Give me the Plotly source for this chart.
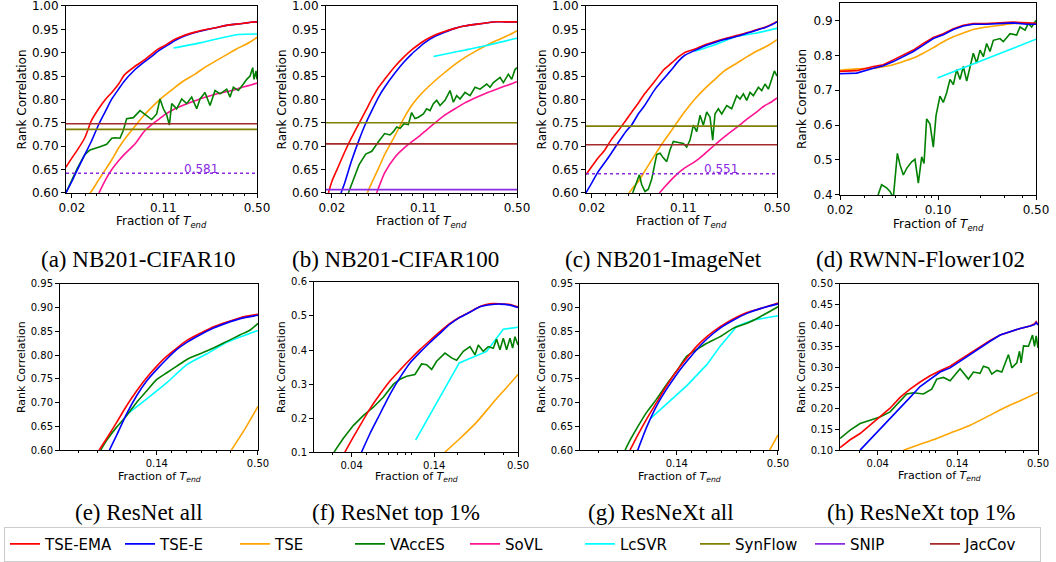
import math
import plotly.graph_objects as go

W, H = 1056, 562

# ---------------- legend / methods ----------------
METHODS = ["TSE-EMA", "TSE-E", "TSE", "VAccES", "SoVL", "LcSVR", "SynFlow", "SNIP", "JacCov"]
COLORS = ["#ff0000", "#0000ff", "#ffa500", "#008000", "#ff1493", "#00ffff", "#808000", "#8a2be2", "#a52a2a"]

CAPTIONS = ["(a) NB201-CIFAR10", "(b) NB201-CIFAR100", "(c) NB201-ImageNet", "(d) RWNN-Flower102",
            "(e) ResNet all", "(f) ResNet top 1%", "(g) ResNeXt all", "(h) ResNeXt top 1%"]
Y_TITLE = "Rank Correlation"
X_TITLE = "Fraction of <i>T</i><sub><i>end</i></sub>"

# ---------------- (a) NB201-CIFAR10 ----------------
top_grid = [0.018, 0.02, 0.022, 0.025, 0.028, 0.032, 0.036, 0.04, 0.045, 0.05, 0.06, 0.07, 0.08,
            0.09, 0.1, 0.12, 0.14, 0.17, 0.2, 0.25, 0.3, 0.35, 0.4, 0.45, 0.5]
a_tse_ema = [0.655, 0.675, 0.692, 0.718, 0.754, 0.781, 0.801, 0.815, 0.833, 0.853, 0.871, 0.884, 0.897,
             0.908, 0.915, 0.929, 0.937, 0.944, 0.949, 0.954, 0.959, 0.961, 0.963, 0.965, 0.966]
a_tse_e = [0.600, 0.625, 0.650, 0.682, 0.710, 0.748, 0.776, 0.801, 0.822, 0.840, 0.864, 0.880, 0.892,
           0.904, 0.912, 0.926, 0.935, 0.943, 0.948, 0.954, 0.959, 0.961, 0.963, 0.965, 0.966]
a_tse_x = [0.0272, 0.028, 0.032, 0.036, 0.04, 0.045, 0.05, 0.06, 0.07, 0.08, 0.09, 0.1, 0.12, 0.14,
           0.17, 0.2, 0.25, 0.3, 0.35, 0.4, 0.45, 0.5]
a_tse_y = [0.600, 0.603, 0.629, 0.651, 0.671, 0.696, 0.715, 0.743, 0.766, 0.783, 0.797, 0.808, 0.826,
           0.840, 0.854, 0.868, 0.884, 0.897, 0.908, 0.916, 0.924, 0.933]
a_sovl_x = [0.032, 0.036, 0.04, 0.045, 0.05, 0.06, 0.07, 0.08, 0.09, 0.1, 0.12, 0.14, 0.17, 0.2, 0.25,
            0.3, 0.35, 0.4, 0.45, 0.5]
a_sovl_y = [0.600, 0.629, 0.650, 0.669, 0.683, 0.705, 0.731, 0.746, 0.757, 0.767, 0.780, 0.788, 0.797,
            0.804, 0.812, 0.817, 0.822, 0.827, 0.831, 0.835]
a_vacc_x = [0.018, 0.02, 0.022, 0.025, 0.0274, 0.0326, 0.0366, 0.04, 0.0423, 0.0461, 0.0489, 0.0518,
            0.0582, 0.0654, 0.0734, 0.08, 0.0873, 0.0925, 0.0981, 0.1039, 0.1089, 0.1134, 0.1237, 0.1349,
            0.1472, 0.1605, 0.1751, 0.1856, 0.2024, 0.2208, 0.241, 0.2629, 0.2953, 0.3129, 0.3315, 0.3616,
            0.3945, 0.4181, 0.443, 0.464, 0.475, 0.4918, 0.5]
a_vacc_y = [0.600, 0.629, 0.653, 0.682, 0.692, 0.699, 0.704, 0.717, 0.718, 0.717, 0.734, 0.759,
            0.761, 0.776, 0.766, 0.757, 0.769, 0.801, 0.780, 0.767, 0.745, 0.791, 0.780, 0.801,
            0.791, 0.805, 0.780, 0.801, 0.815, 0.787, 0.819, 0.812, 0.822, 0.805, 0.826, 0.819,
            0.833, 0.843, 0.850, 0.868, 0.843, 0.861, 0.843]
a_lcsvr_x = [0.117, 0.186, 0.263, 0.362, 0.5]
a_lcsvr_y = [0.910, 0.921, 0.931, 0.939, 0.940]
a_synflow, a_snip, a_jaccov = 0.736, 0.642, 0.748
a_snip_label = "0.581"

# ---------------- (b) NB201-CIFAR100 ----------------
b_tse_ema_x = [0.0188] + top_grid[1:]
b_tse_ema_y = [0.600, 0.625, 0.652, 0.688, 0.717, 0.749, 0.776, 0.801, 0.826, 0.843, 0.871, 0.891, 0.906,
               0.917, 0.926, 0.938, 0.945, 0.952, 0.957, 0.961, 0.964, 0.966, 0.966, 0.966, 0.966]
b_tse_e_x = [0.0234, 0.025, 0.028, 0.032, 0.036, 0.04, 0.045, 0.05, 0.06, 0.07, 0.08, 0.09, 0.1, 0.12,
             0.14, 0.17, 0.2, 0.25, 0.3, 0.35, 0.4, 0.45, 0.5]
b_tse_e_y = [0.600, 0.622, 0.667, 0.713, 0.749, 0.776, 0.805, 0.826, 0.857, 0.880, 0.897, 0.910, 0.921,
             0.935, 0.943, 0.952, 0.957, 0.961, 0.964, 0.966, 0.966, 0.966, 0.966]
b_tse_x = [0.037, 0.04, 0.045, 0.05, 0.06, 0.07, 0.08, 0.09, 0.1, 0.12, 0.14, 0.17, 0.2, 0.25, 0.3,
           0.35, 0.4, 0.45, 0.5]
b_tse_y = [0.600, 0.622, 0.653, 0.682, 0.723, 0.760, 0.787, 0.805, 0.819, 0.840, 0.856, 0.875, 0.889,
           0.905, 0.917, 0.926, 0.933, 0.940, 0.947]
b_sovl_x = [0.0435, 0.045, 0.05, 0.06, 0.07, 0.08, 0.09, 0.1, 0.12, 0.14, 0.17, 0.2, 0.25, 0.3, 0.35,
            0.4, 0.45, 0.5]
b_sovl_y = [0.600, 0.611, 0.643, 0.677, 0.696, 0.709, 0.720, 0.731, 0.750, 0.765, 0.780, 0.792, 0.805,
            0.815, 0.822, 0.828, 0.833, 0.838]
b_vacc_x = [0.0266, 0.028, 0.032, 0.036, 0.04, 0.045, 0.05, 0.0549, 0.0582, 0.0617, 0.0654, 0.07,
            0.0755, 0.08, 0.0848, 0.09, 0.0981, 0.1039, 0.1101, 0.1167, 0.1237, 0.1311, 0.1429, 0.156,
            0.1653, 0.1751, 0.1856, 0.2024, 0.2208, 0.241, 0.2629, 0.2953, 0.3129, 0.3315, 0.3724,
            0.3945, 0.4303, 0.456, 0.4831, 0.5]
b_vacc_y = [0.600, 0.618, 0.660, 0.683, 0.689, 0.710, 0.727, 0.724, 0.731, 0.741, 0.738, 0.748,
            0.746, 0.772, 0.759, 0.762, 0.769, 0.780, 0.776, 0.791, 0.798, 0.787, 0.798, 0.819,
            0.794, 0.808, 0.801, 0.815, 0.808, 0.826, 0.822, 0.833, 0.826, 0.836, 0.847,
            0.836, 0.854, 0.843, 0.864, 0.868]
b_lcsvr_x = [0.117, 0.25, 0.5]
b_lcsvr_y = [0.892, 0.911, 0.931]
b_synflow, b_snip, b_jaccov = 0.750, 0.607, 0.705

# ---------------- (c) NB201-ImageNet ----------------
c_tse_ema = [0.639, 0.657, 0.673, 0.692, 0.714, 0.735, 0.755, 0.773, 0.793, 0.812, 0.840, 0.864, 0.878,
             0.891, 0.900, 0.908, 0.916, 0.924, 0.930, 0.937, 0.943, 0.949, 0.954, 0.960, 0.967]
c_tse_e = [0.600, 0.622, 0.643, 0.665, 0.685, 0.710, 0.731, 0.746, 0.770, 0.787, 0.822, 0.845, 0.864,
           0.882, 0.894, 0.905, 0.914, 0.922, 0.928, 0.935, 0.942, 0.948, 0.953, 0.959, 0.966]
c_lcsvr_x = [0.12, 0.17, 0.25, 0.35, 0.5]
c_lcsvr_y = [0.903, 0.917, 0.935, 0.942, 0.952]
c_tse_x = [0.0381, 0.04, 0.045, 0.05, 0.06, 0.07, 0.08, 0.09, 0.1, 0.12, 0.14, 0.17, 0.2, 0.25, 0.3,
           0.35, 0.4, 0.45, 0.5]
c_tse_y = [0.600, 0.608, 0.625, 0.646, 0.682, 0.711, 0.734, 0.755, 0.773, 0.801, 0.821, 0.843, 0.861,
           0.878, 0.892, 0.903, 0.911, 0.919, 0.928]
c_sovl_x = [0.0646, 0.07, 0.08, 0.09, 0.1, 0.12, 0.14, 0.17, 0.2, 0.25, 0.3, 0.35, 0.4, 0.45, 0.5]
c_sovl_y = [0.600, 0.611, 0.629, 0.643, 0.653, 0.667, 0.682, 0.703, 0.720, 0.741, 0.759, 0.773, 0.786,
            0.794, 0.803]
c_vacc_x = [0.0406, 0.0435, 0.0456, 0.0475, 0.0503, 0.0533, 0.0565, 0.0617, 0.0654, 0.0692, 0.0734,
            0.0777, 0.0824, 0.09, 0.0981, 0.1039, 0.1101, 0.1167, 0.1237, 0.1311, 0.1389, 0.1472,
            0.156, 0.1634, 0.17, 0.1803, 0.1911, 0.2085, 0.2274, 0.248, 0.2629, 0.2786, 0.2953,
            0.3129, 0.3315, 0.3616, 0.3834, 0.4062, 0.4303, 0.456, 0.4777, 0.5]
c_vacc_y = [0.600, 0.622, 0.639, 0.618, 0.603, 0.608, 0.629, 0.682, 0.685, 0.675, 0.667,
            0.692, 0.710, 0.708, 0.706, 0.698, 0.713, 0.745, 0.731, 0.766, 0.745, 0.773,
            0.762, 0.713, 0.769, 0.780, 0.769, 0.787, 0.780, 0.808, 0.801, 0.812, 0.798,
            0.815, 0.808, 0.826, 0.819, 0.833, 0.822, 0.843, 0.861, 0.850]
c_synflow, c_snip, c_jaccov = 0.743, 0.641, 0.703
c_snip_label = "0.551"
snip_label_pos = (0.188, 0.651)   # (fraction, rank corr) where the SNIP value is written

# ---------------- (d) RWNN-Flower102 ----------------
d_grid = [0.02, 0.0263, 0.0346, 0.0407, 0.048, 0.0566, 0.0667, 0.0786, 0.0926, 0.1091, 0.1287, 0.1516,
          0.1786, 0.2224, 0.2768, 0.3446, 0.4289, 0.5]
d_tse_ema = [0.754, 0.756, 0.768, 0.773, 0.787, 0.801, 0.815, 0.834, 0.851, 0.862, 0.876, 0.886, 0.891,
             0.891, 0.892, 0.895, 0.893, 0.892]
d_tse_e = [0.747, 0.749, 0.763, 0.770, 0.782, 0.796, 0.811, 0.829, 0.848, 0.859, 0.874, 0.884, 0.889,
           0.889, 0.891, 0.893, 0.889, 0.889]
d_tse = [0.757, 0.761, 0.763, 0.767, 0.773, 0.782, 0.792, 0.806, 0.822, 0.839, 0.853, 0.864, 0.874,
         0.881, 0.886, 0.891, 0.892, 0.892]
d_vacc_x = [0.0355, 0.0396, 0.043, 0.0455, 0.048, 0.0513, 0.0536, 0.0566, 0.0598, 0.0649, 0.0685,
            0.0724, 0.0765, 0.0795, 0.083, 0.0877, 0.0926, 0.0968, 0.1033, 0.1091, 0.1153, 0.1218,
            0.1287, 0.1359, 0.1436, 0.1516, 0.1602, 0.1691, 0.1786, 0.1887, 0.1994, 0.2106, 0.2224,
            0.2349, 0.2481, 0.2768, 0.2924, 0.3263, 0.364, 0.3845, 0.4174, 0.4407, 0.4657, 0.5]
d_vacc_y = [0.373, 0.429, 0.420, 0.410, 0.392, 0.519, 0.486, 0.457, 0.476, 0.495, 0.502,
            0.434, 0.509, 0.490, 0.618, 0.603, 0.537, 0.627, 0.683, 0.665, 0.693, 0.731,
            0.716, 0.759, 0.731, 0.768, 0.726, 0.768, 0.806, 0.778, 0.815, 0.796, 0.834,
            0.811, 0.843, 0.848, 0.839, 0.862, 0.858, 0.881, 0.872, 0.891, 0.881, 0.900]
d_lcsvr_x = [0.099, 0.5]
d_lcsvr_y = [0.735, 0.846]

# ---------------- (e) ResNet all ----------------
e_tse_ema_x = [0.0677, 0.0746, 0.0846, 0.0959, 0.1088, 0.1234, 0.14, 0.1588, 0.1801, 0.2043, 0.2416,
               0.286, 0.3383, 0.4002, 0.5]
e_tse_ema_y = [0.600, 0.625, 0.659, 0.694, 0.725, 0.753, 0.777, 0.798, 0.815, 0.831, 0.846, 0.860,
               0.870, 0.879, 0.886]
e_tse_e_x = [0.0771, 0.0846, 0.0959, 0.1088, 0.1234, 0.14, 0.1588, 0.1801, 0.2043, 0.2416, 0.286,
             0.3383, 0.4002, 0.5]
e_tse_e_y = [0.600, 0.632, 0.677, 0.715, 0.746, 0.770, 0.792, 0.812, 0.827, 0.843, 0.857, 0.868,
             0.877, 0.884]
e_vacc_x = [0.0691, 0.0746, 0.0846, 0.0959, 0.1088, 0.1234, 0.14, 0.1588, 0.1801, 0.2043, 0.2416,
            0.286, 0.3383, 0.4002, 0.4539, 0.5]
e_vacc_y = [0.600, 0.621, 0.649, 0.673, 0.701, 0.725, 0.749, 0.763, 0.777, 0.791, 0.803, 0.815,
            0.829, 0.843, 0.853, 0.867]
e_lcsvr_x = [0.0979, 0.1234, 0.1588, 0.2043, 0.2629, 0.3383, 0.5]
e_lcsvr_y = [0.678, 0.708, 0.742, 0.780, 0.803, 0.827, 0.852]
e_tse_x = [0.3573, 0.4263, 0.5]
e_tse_y = [0.600, 0.646, 0.692]

# ---------------- (f) ResNet top 1% ----------------
f_tse_ema_x = [0.0361, 0.041, 0.0454, 0.0528, 0.0615, 0.0716, 0.0833, 0.097, 0.1128, 0.1314, 0.1529,
               0.178, 0.2071, 0.2411, 0.2807, 0.3266, 0.3802, 0.4426, 0.5]
f_tse_ema_y = [0.100, 0.144, 0.178, 0.227, 0.270, 0.309, 0.341, 0.372, 0.401, 0.428, 0.454, 0.478,
               0.497, 0.512, 0.528, 0.536, 0.536, 0.534, 0.527]
f_tse_e_x = [0.0465, 0.0528, 0.0615, 0.0716, 0.0833, 0.097, 0.1128, 0.1314, 0.1529, 0.178, 0.2071,
             0.2411, 0.2807, 0.3266, 0.3802, 0.4426, 0.5]
f_tse_e_y = [0.100, 0.154, 0.212, 0.270, 0.319, 0.362, 0.393, 0.422, 0.449, 0.476, 0.496, 0.511,
             0.527, 0.533, 0.535, 0.532, 0.525]
f_vacc_x = [0.0306, 0.0352, 0.041, 0.0477, 0.0556, 0.0647, 0.0753, 0.0833, 0.0922, 0.1046, 0.1157,
            0.1249, 0.1348, 0.1454, 0.165, 0.1825, 0.1969, 0.218, 0.2411, 0.2602, 0.2737, 0.2952,
            0.3185, 0.3436, 0.3614, 0.3802, 0.4, 0.4207, 0.4426, 0.4608, 0.4774, 0.5]
f_vacc_y = [0.100, 0.140, 0.178, 0.207, 0.232, 0.261, 0.299, 0.314, 0.323, 0.328, 0.359,
            0.357, 0.343, 0.367, 0.391, 0.377, 0.370, 0.396, 0.410, 0.386, 0.415, 0.396,
            0.410, 0.405, 0.432, 0.401, 0.435, 0.401, 0.435, 0.406, 0.439, 0.415]
f_lcsvr_x = [0.1057, 0.205, 0.3105, 0.4, 0.5]
f_lcsvr_y = [0.135, 0.362, 0.396, 0.461, 0.467]
f_tse_x = [0.165, 0.2071, 0.2669, 0.3436, 0.4207, 0.5]
f_tse_y = [0.100, 0.140, 0.188, 0.246, 0.290, 0.328]

# ---------------- (g) ResNeXt all ----------------
g_tse_ema_x = [0.0777, 0.0846, 0.0959, 0.1088, 0.1234, 0.14, 0.1588, 0.1801, 0.2043, 0.2416, 0.286,
               0.3383, 0.4002, 0.5]
g_tse_ema_y = [0.600, 0.628, 0.666, 0.701, 0.736, 0.767, 0.794, 0.819, 0.839, 0.860, 0.877, 0.890,
               0.898, 0.910]
g_tse_e_x = [0.0856, 0.0959, 0.1088, 0.1234, 0.14, 0.1588, 0.1801, 0.2043, 0.2416, 0.286, 0.3383,
             0.4002, 0.5]
g_tse_e_y = [0.600, 0.649, 0.694, 0.729, 0.760, 0.787, 0.812, 0.834, 0.857, 0.874, 0.888, 0.898, 0.908]
g_vacc_x = [0.073, 0.0777, 0.0846, 0.0959, 0.1088, 0.1234, 0.14, 0.1588, 0.1801, 0.2043, 0.2416,
            0.286, 0.3383, 0.4002, 0.5]
g_vacc_y = [0.600, 0.621, 0.646, 0.680, 0.708, 0.739, 0.767, 0.798, 0.812, 0.825, 0.839, 0.857,
            0.867, 0.881, 0.902]
g_lcsvr_x = [0.1, 0.1234, 0.1588, 0.2043, 0.2416, 0.2982, 0.3679, 0.5]
g_lcsvr_y = [0.666, 0.698, 0.736, 0.780, 0.819, 0.861, 0.874, 0.883]
g_tse_x = [0.4501, 0.5]
g_tse_y = [0.600, 0.632]

# ---------------- (h) ResNeXt top 1% ----------------
h_tse_ema_x = [0.0221, 0.0259, 0.0303, 0.0354, 0.0415, 0.0486, 0.0569, 0.0666, 0.078, 0.0913, 0.1069,
               0.1252, 0.1465, 0.1715, 0.2009, 0.2351, 0.2754, 0.3225, 0.3775, 0.4419, 0.4733, 0.4859, 0.5]
h_tse_ema_y = [0.106, 0.125, 0.140, 0.160, 0.180, 0.201, 0.227, 0.247, 0.264, 0.279, 0.291,
               0.302, 0.318, 0.334, 0.350, 0.364, 0.377, 0.385, 0.393, 0.399, 0.404, 0.409, 0.402]
h_tse_e_x = [0.0303, 0.0354, 0.0415, 0.0486, 0.0569, 0.0666, 0.078, 0.0913, 0.1069, 0.1252, 0.1465,
             0.1715, 0.2009, 0.2351, 0.2754, 0.3225, 0.3775, 0.4419, 0.4733, 0.4859, 0.5]
h_tse_e_y = [0.100, 0.125, 0.151, 0.174, 0.200, 0.227, 0.253, 0.271, 0.288, 0.298, 0.314, 0.332,
             0.348, 0.362, 0.377, 0.385, 0.393, 0.399, 0.402, 0.407, 0.401]
h_vacc_x = [0.0221, 0.0259, 0.0303, 0.0354, 0.0415, 0.0486, 0.0569, 0.0632, 0.0702, 0.0822, 0.0937,
            0.1014, 0.1127, 0.1252, 0.1465, 0.1671, 0.1808, 0.2009, 0.2117, 0.2291, 0.2414, 0.2613,
            0.2827, 0.2979, 0.3141, 0.331, 0.3581, 0.3735, 0.3835, 0.3979, 0.4305, 0.4585, 0.4733,
            0.4859, 0.5]
h_vacc_y = [0.128, 0.148, 0.164, 0.172, 0.180, 0.192, 0.219, 0.235, 0.238, 0.235, 0.247,
            0.271, 0.275, 0.267, 0.296, 0.271, 0.288, 0.285, 0.302, 0.298, 0.283, 0.292,
            0.288, 0.310, 0.330, 0.298, 0.310, 0.338, 0.310, 0.351, 0.350, 0.377, 0.350,
            0.375, 0.346]
h_tse_x = [0.06, 0.078, 0.1014, 0.1319, 0.1715, 0.2232, 0.2902, 0.3775, 0.5]
h_tse_y = [0.100, 0.114, 0.128, 0.144, 0.160, 0.180, 0.201, 0.219, 0.239]

# ---------------- axis ticks ----------------
TOP_XTICK_VALS = [0.02, 0.098, 0.5]
TOP_XTICK_TEXT = ["0.02", "0.11", "0.50"]
D_XTICK_VALS = [0.02, 0.1, 0.5]
D_XTICK_TEXT = ["0.02", "0.10", "0.50"]
EG_XTICK_VALS = [0.14, 0.5]
EG_XTICK_TEXT = ["0.14", "0.50"]
FH_XTICK_VALS = [0.04, 0.14, 0.5]
FH_XTICK_TEXT = ["0.04", "0.14", "0.50"]

# =====================================================================
C = dict(zip(METHODS, COLORS))

# panel -> pixel box (left, right, top, bottom)
BOX = {1: (66, 257, 6, 195), 2: (326, 517, 6, 195), 3: (586, 777, 6, 195), 4: (840, 1036, 3, 197),
       5: (60, 258, 287, 455), 6: (314, 518, 285, 457), 7: (580, 778, 287, 455), 8: (840, 1038, 287, 455)}
XR = {1: (-1.744, -0.301), 2: (-1.744, -0.301), 3: (-1.744, -0.301), 4: (-1.699, -0.301),
      5: (-1.383, -0.301), 6: (-1.646, -0.301), 7: (-1.383, -0.301), 8: (-1.656, -0.301)}
YR = {1: (0.6, 1.0), 2: (0.6, 1.0), 3: (0.6, 1.0), 4: (0.4, 0.95),
      5: (0.6, 0.95), 6: (0.1, 0.6), 7: (0.6, 0.95), 8: (0.1, 0.5)}
YDT = {1: (0.05, ".2f"), 2: (0.05, ".2f"), 3: (0.05, ".2f"), 4: (0.1, ".1f"),
       5: (0.05, ".2f"), 6: (0.1, ".1f"), 7: (0.05, ".2f"), 8: (0.05, ".2f")}
XT = {1: (TOP_XTICK_VALS, TOP_XTICK_TEXT), 2: (TOP_XTICK_VALS, TOP_XTICK_TEXT),
      3: (TOP_XTICK_VALS, TOP_XTICK_TEXT), 4: (D_XTICK_VALS, D_XTICK_TEXT),
      5: (EG_XTICK_VALS, EG_XTICK_TEXT), 6: (FH_XTICK_VALS, FH_XTICK_TEXT),
      7: (EG_XTICK_VALS, EG_XTICK_TEXT), 8: (FH_XTICK_VALS, FH_XTICK_TEXT)}
TOP_MINOR = [0.0251, 0.0307, 0.0376, 0.0456, 0.0549, 0.0673, 0.081, 0.1216, 0.1515, 0.1856,
             0.2274, 0.2754, 0.3315, 0.4014]
LOG_MINOR = [0.03, 0.04, 0.05, 0.06, 0.07, 0.08, 0.09, 0.2, 0.3, 0.4]
EG_MINOR = [0.052, 0.066, 0.081, 0.1, 0.118, 0.169, 0.204, 0.247, 0.298, 0.353, 0.417]
FH_MINOR = [0.03, 0.05, 0.06, 0.07, 0.08, 0.09, 0.1, 0.2, 0.3, 0.4]
XMINOR = {1: TOP_MINOR, 2: TOP_MINOR, 3: TOP_MINOR, 4: LOG_MINOR,
          5: EG_MINOR, 6: FH_MINOR, 7: EG_MINOR, 8: FH_MINOR}
# axis-title pixel anchors: (y-title centre x, x-title centre y)
TITLE_PX = {1: (22, 224), 2: (282, 224), 3: (542, 224), 4: (802, 227),
            5: (21, 482), 6: (281, 482), 7: (541, 482), 8: (801, 481)}

fig = go.Figure()


def add(p, x, y, method, smooth=True):
    fig.add_trace(go.Scatter(
        x=x, y=y, mode="lines", showlegend=False, hoverinfo="skip",
        line=dict(color=C[method], width=1.6, shape="spline" if smooth else "linear",
                  smoothing=0.6 if smooth else None),
        xaxis="x" if p == 1 else f"x{p}", yaxis="y" if p == 1 else f"y{p}"))


shapes = []


def hline(p, v, method, dash="solid"):
    xr = "x domain" if p == 1 else f"x{p} domain"
    yr = "y" if p == 1 else f"y{p}"
    shapes.append(dict(type="line", xref=xr, x0=0, x1=1, yref=yr, y0=v, y1=v,
                       line=dict(color=C[method], width=1.6, dash=dash), layer="above"))


# (a)
add(1, a_tse_x, a_tse_y, "TSE")
add(1, a_sovl_x, a_sovl_y, "SoVL")
add(1, a_vacc_x, a_vacc_y, "VAccES", smooth=False)
add(1, a_lcsvr_x, a_lcsvr_y, "LcSVR")
add(1, top_grid, a_tse_e, "TSE-E")
add(1, top_grid, a_tse_ema, "TSE-EMA")
hline(1, a_synflow, "SynFlow"); hline(1, a_jaccov, "JacCov"); hline(1, a_snip, "SNIP", "dot")
# (b)
add(2, b_tse_x, b_tse_y, "TSE")
add(2, b_sovl_x, b_sovl_y, "SoVL")
add(2, b_vacc_x, b_vacc_y, "VAccES", smooth=False)
add(2, b_lcsvr_x, b_lcsvr_y, "LcSVR")
add(2, b_tse_e_x, b_tse_e_y, "TSE-E")
add(2, b_tse_ema_x, b_tse_ema_y, "TSE-EMA")
hline(2, b_synflow, "SynFlow"); hline(2, b_jaccov, "JacCov"); hline(2, b_snip, "SNIP")
# (c)
add(3, c_tse_x, c_tse_y, "TSE")
add(3, c_sovl_x, c_sovl_y, "SoVL")
add(3, c_vacc_x, c_vacc_y, "VAccES", smooth=False)
add(3, c_lcsvr_x, c_lcsvr_y, "LcSVR")
add(3, top_grid, c_tse_ema, "TSE-EMA")
add(3, top_grid, c_tse_e, "TSE-E")
hline(3, c_synflow, "SynFlow"); hline(3, c_jaccov, "JacCov"); hline(3, c_snip, "SNIP", "dot")
# (d)
add(4, d_grid, d_tse, "TSE")
add(4, d_vacc_x, d_vacc_y, "VAccES", smooth=False)
add(4, d_lcsvr_x, d_lcsvr_y, "LcSVR")
add(4, d_grid, d_tse_ema, "TSE-EMA", smooth=False)
add(4, d_grid, d_tse_e, "TSE-E", smooth=False)
# (e)
add(5, e_tse_x, e_tse_y, "TSE")
add(5, e_lcsvr_x, e_lcsvr_y, "LcSVR")
add(5, e_vacc_x, e_vacc_y, "VAccES")
add(5, e_tse_ema_x, e_tse_ema_y, "TSE-EMA")
add(5, e_tse_e_x, e_tse_e_y, "TSE-E")
# (f)
add(6, f_tse_x, f_tse_y, "TSE")
add(6, f_lcsvr_x, f_lcsvr_y, "LcSVR", smooth=False)
add(6, f_vacc_x, f_vacc_y, "VAccES", smooth=False)
add(6, f_tse_ema_x, f_tse_ema_y, "TSE-EMA")
add(6, f_tse_e_x, f_tse_e_y, "TSE-E")
# (g)
add(7, g_tse_x, g_tse_y, "TSE")
add(7, g_lcsvr_x, g_lcsvr_y, "LcSVR", smooth=False)
add(7, g_vacc_x, g_vacc_y, "VAccES")
add(7, g_tse_ema_x, g_tse_ema_y, "TSE-EMA")
add(7, g_tse_e_x, g_tse_e_y, "TSE-E")
# (h)
add(8, h_tse_x, h_tse_y, "TSE")
add(8, h_vacc_x, h_vacc_y, "VAccES", smooth=False)
add(8, h_tse_ema_x, h_tse_ema_y, "TSE-EMA", smooth=False)
add(8, h_tse_e_x, h_tse_e_y, "TSE-E", smooth=False)

# legend entries
for m in METHODS:
    fig.add_trace(go.Scatter(x=[None], y=[None], mode="lines", name=m,
                             line=dict(color=C[m], width=1.6), showlegend=True))

layout = dict(width=W, height=H, autosize=False, margin=dict(l=0, r=0, t=0, b=0),
              paper_bgcolor="white", plot_bgcolor="white",
              font=dict(family="DejaVu Sans", color="black"),
              shapes=shapes)

annotations = []
for p, (l, r, t, b) in BOX.items():
    top_row = p <= 4
    tf = 12 if top_row else 10
    af = 12 if top_row else 11
    kx = "xaxis" if p == 1 else f"xaxis{p}"
    ky = "yaxis" if p == 1 else f"yaxis{p}"
    common = dict(showline=True, mirror=True, linecolor="black", linewidth=1, ticks="outside",
                  ticklen=4, tickwidth=1, tickcolor="black", showgrid=False, zeroline=False,
                  automargin=False, ticklabeloverflow="allow",
                  tickfont=dict(size=tf, family="DejaVu Sans", color="black"))
    tv, tt = XT[p]
    layout[kx] = dict(common, type="log", range=list(XR[p]), domain=[l / W, r / W],
                      anchor="y" if p == 1 else f"y{p}",
                      tickmode="array", tickvals=tv, ticktext=tt,
                      minor=dict(tickmode="array", tickvals=XMINOR[p], ticks="outside", ticklen=2,
                                 tickwidth=1, tickcolor="black", showgrid=False))
    dt, fmt = YDT[p]
    layout[ky] = dict(common, range=list(YR[p]), domain=[1 - b / H, 1 - t / H],
                      anchor="x" if p == 1 else f"x{p}",
                      tickmode="linear", tick0=YR[p][0], dtick=dt, tickformat=fmt)
    ytx, xty = TITLE_PX[p]
    annotations.append(dict(text=Y_TITLE, textangle=-90, x=ytx / W, y=1 - (t + b) / 2 / H,
                            xref="paper", yref="paper", showarrow=False,
                            xanchor="center", yanchor="middle",
                            font=dict(size=af, family="DejaVu Sans", color="black")))
    annotations.append(dict(text=X_TITLE, x=(l + r) / 2 / W, y=1 - xty / H,
                            xref="paper", yref="paper", showarrow=False,
                            xanchor="center", yanchor="middle",
                            font=dict(size=af, family="DejaVu Sans", color="black")))

CAP_POS = [(138, 262), (395, 262), (663, 262), (920, 262),
           (139, 518), (396, 518), (661, 518), (921, 518)]
for txt, (cx, cy) in zip(CAPTIONS, CAP_POS):
    annotations.append(dict(text=txt, x=cx / W, y=1 - cy / H, xref="paper", yref="paper",
                            showarrow=False, xanchor="center", yanchor="middle",
                            font=dict(family="Liberation Serif", size=23, color="black")))
# SNIP value labels (log axis: annotation x in log10 units)
for lbl, xr, yr in [(a_snip_label, "x", "y"), (c_snip_label, "x3", "y3")]:
    annotations.append(dict(text=lbl, x=math.log10(snip_label_pos[0]), y=snip_label_pos[1],
                            xref=xr, yref=yr, showarrow=False,
                            xanchor="center", yanchor="middle",
                            font=dict(size=12, color=C["SNIP"], family="DejaVu Sans")))
layout["annotations"] = annotations

layout["legend"] = dict(orientation="h", x=4 / W, y=1 - 550 / H, xanchor="left", yanchor="middle",
                        bordercolor="#cccccc", borderwidth=1, bgcolor="white",
                        font=dict(size=15, family="DejaVu Sans", color="black"),
                        entrywidth=70, entrywidthmode="pixels", itemwidth=30, tracegroupgap=0)

fig.update_layout(**layout)
fig.write_html("out.html", config={"displayModeBar": False},
               post_script="document.body.style.margin='0';document.body.style.overflow='hidden';")
